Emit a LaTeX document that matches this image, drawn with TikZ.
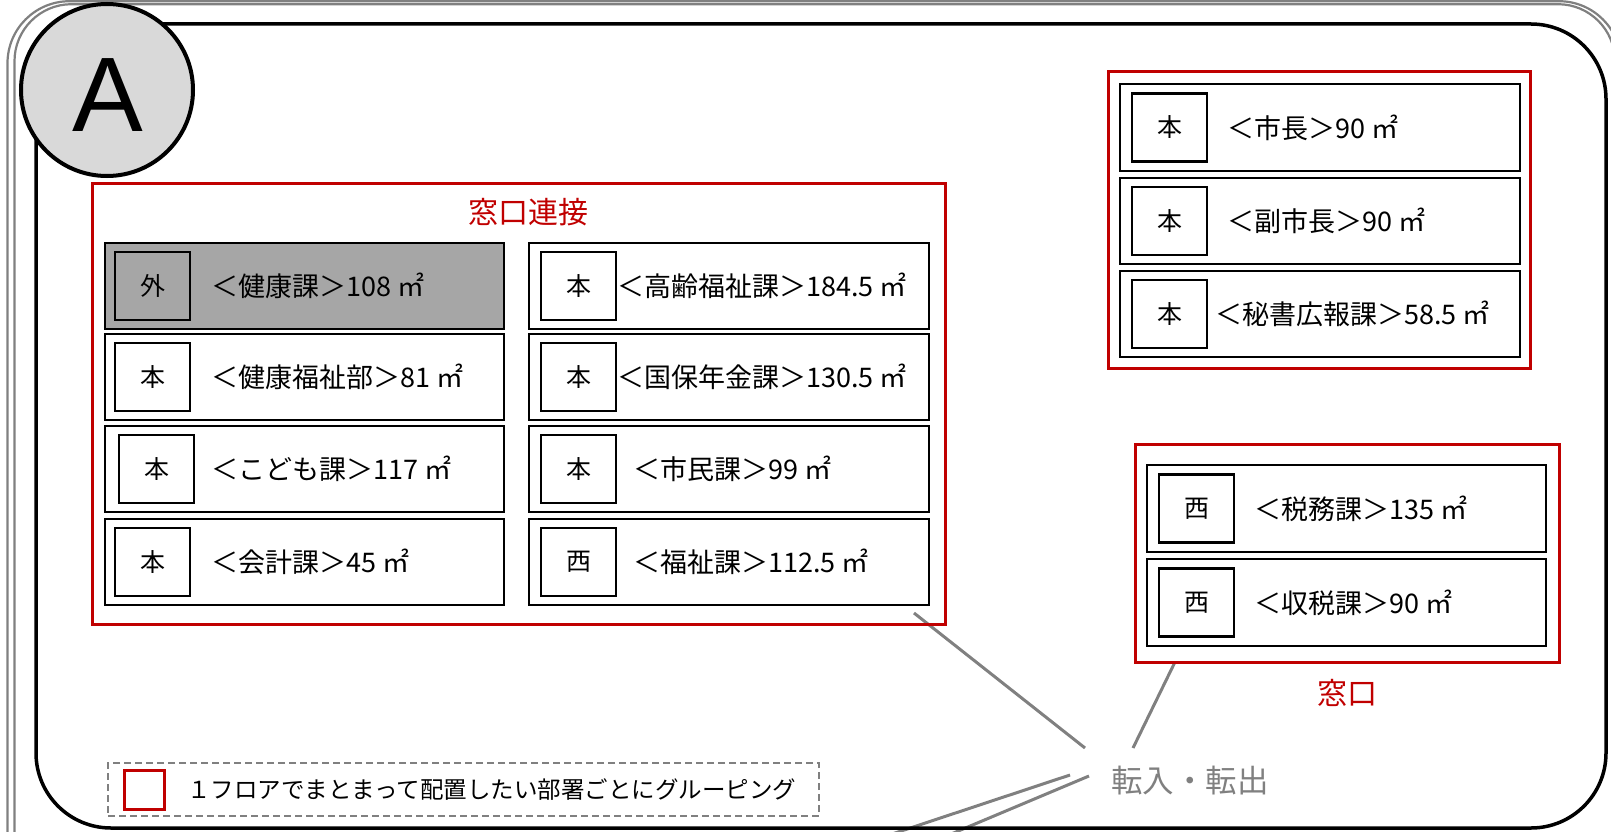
\documentclass[tikz,border=0pt]{standalone}
\usepackage{fontspec}
\setmainfont{Noto Sans CJK JP}
\newfontfamily\letterfont{Liberation Sans}
\usetikzlibrary{positioning}
\definecolor{groupred}{HTML}{C00000}
\definecolor{linkgray}{HTML}{808080}
\definecolor{outfill}{HTML}{A6A6A6}
\definecolor{badgefill}{HTML}{D9D9D9}
\tikzset{
    badge/.style={circle, draw=black, fill=badgefill, line width=4pt, minimum size=172pt, inner sep=0pt},
    group/.style={rectangle, draw=groupred, line width=3pt, inner sep=0pt},
    grouptitle/.style={text=groupred, inner sep=0pt, font=\fontsize{30}{30}\selectfont},
    dept/.style={rectangle, draw=black, line width=2.5pt, minimum width=399pt, minimum height=86pt, inner sep=0pt},
    outdept/.style={dept, fill=outfill},
    tag/.style={rectangle, draw=black, line width=2.5pt, minimum width=75pt, minimum height=68pt, inner sep=0pt, font=\fontsize{25}{25}\selectfont},
    deptlabel/.style={inner sep=0pt, font=\fontsize{27}{27}\selectfont},
    link/.style={-, draw=linkgray, line width=3pt},
}

\begin{document}
\begin{tikzpicture}[x=1pt, y=-1pt]
    \useasboundingbox (0,0) rectangle (1611,832);
    \clip (0,0) rectangle (1611,832);
    % outer frames
    \draw[draw=linkgray, line width=2.2pt, rounded corners=62pt] (7.5,1.2) rectangle (1621,900);
    \draw[draw=linkgray, line width=2.2pt, rounded corners=57pt] (14.5,4.2) rectangle (1615,893);

    % links to the moving-in / moving-out counter
    \node[text=linkgray, inner sep=0pt, font=\fontsize{31.5}{31.5}\selectfont] (move) at (1190,781) {転入・転出};
    \coordinate (c1) at (914,613);
    \coordinate (m1) at (1085,748);
    \coordinate (c2) at (1175,662);
    \coordinate (m2) at (1133,748);
    \coordinate (m3) at (1070,775);
    \coordinate (c3) at (859,845);
    \coordinate (m4) at (1089,776);
    \coordinate (c4) at (925,845);
    \draw[link] (c1) -- (m1);
    \draw[link] (c2) -- (m2);
    \draw[link] (m3) -- (c3);
    \draw[link] (m4) -- (c4);

    \draw[draw=black, line width=3.5pt, rounded corners=75pt] (36,24) rectangle (1606,828);
    \node[badge] (badge) at (107,90) {};
    \node[inner sep=0pt, font=\letterfont\fontsize{106}{106}\selectfont] (letter) at (107.5,95) {A};

    % window group
    \node[group, minimum width=853pt, minimum height=441pt] (g1) at (518.5,403.5) {};
    \node[grouptitle] (g1title) at (528,212) {窓口連接};

    \node[outdept] (d1) at (304.5,286) {};
    \node[tag, fill=outfill, right=10pt of d1.west] (t1) {外};
    \node[deptlabel, right=20pt of t1] (n1) {＜健康課＞108 ㎡};
    \node[dept] (d2) at (304.5,377) {};
    \node[tag, right=10pt of d2.west] (t2) {本};
    \node[deptlabel, right=20pt of t2] (n2) {＜健康福祉部＞81 ㎡};
    \node[dept] (d3) at (304.5,469) {};
    \node[tag, right=14pt of d3.west] (t3) {本};
    \node[deptlabel, right=16pt of t3] (n3) {＜こども課＞117 ㎡};
    \node[dept] (d4) at (304.5,562) {};
    \node[tag, right=10pt of d4.west] (t4) {本};
    \node[deptlabel, right=20pt of t4] (n4) {＜会計課＞45 ㎡};

    \node[dept, minimum width=400pt] (d5) at (729,286) {};
    \node[tag, right=12pt of d5.west] (t5) {本};
    \node[deptlabel, right=0pt of t5] (n5) {＜高齢福祉課＞184.5 ㎡};
    \node[dept, minimum width=400pt] (d6) at (729,377) {};
    \node[tag, right=12pt of d6.west] (t6) {本};
    \node[deptlabel, right=0pt of t6] (n6) {＜国保年金課＞130.5 ㎡};
    \node[dept, minimum width=400pt] (d7) at (729,469) {};
    \node[tag, right=12pt of d7.west] (t7) {本};
    \node[deptlabel, right=16pt of t7] (n7) {＜市民課＞99 ㎡};
    \node[dept, minimum width=400pt] (d8) at (729,562) {};
    \node[tag, right=12pt of d8.west] (t8) {西};
    \node[deptlabel, right=16pt of t8] (n8) {＜福祉課＞112.5 ㎡};

    % executive group
    \node[group, minimum width=422pt, minimum height=296pt] (g2) at (1319,220) {};
    \node[dept, minimum width=400pt, minimum height=87pt] (d9) at (1320,127.5) {};
    \node[tag, right=12pt of d9.west] (t9) {本};
    \node[deptlabel, right=19pt of t9] (n9) {＜市長＞90 ㎡};
    \node[dept, minimum width=400pt] (d10) at (1320,221) {};
    \node[tag, right=12pt of d10.west] (t10) {本};
    \node[deptlabel, right=19pt of t10] (n10) {＜副市長＞90 ㎡};
    \node[dept, minimum width=400pt] (d11) at (1320,314) {};
    \node[tag, right=12pt of d11.west] (t11) {本};
    \node[deptlabel, right=7pt of t11] (n11) {＜秘書広報課＞58.5 ㎡};

    % tax group
    \node[group, minimum width=424pt, minimum height=218pt] (g3) at (1347,553) {};
    \node[grouptitle] (g3title) at (1347,693) {窓口};
    \node[dept, minimum height=87pt] (d12) at (1346.5,508.5) {};
    \node[tag, right=12pt of d12.west] (t12) {西};
    \node[deptlabel, right=19pt of t12] (n12) {＜税務課＞135 ㎡};
    \node[dept, minimum height=87pt] (d13) at (1346.5,602.5) {};
    \node[tag, right=12pt of d13.west] (t13) {西};
    \node[deptlabel, right=19pt of t13] (n13) {＜収税課＞90 ㎡};

    % legend
    \node[draw=linkgray, dash pattern=on 7pt off 4pt, line width=1.5pt, minimum width=711pt, minimum height=53pt, inner sep=0pt] (legend) at (463.5,789.5) {};
    \node[group, minimum width=40pt, minimum height=39pt] (legendkey) at (144,789.5) {};
    \node[inner sep=0pt, anchor=west, font=\fontsize{23.5}{23.5}\selectfont] (legendtext) at (187,789.5) {１フロアでまとまって配置したい部署ごとにグルーピング};
\end{tikzpicture}
\end{document}
